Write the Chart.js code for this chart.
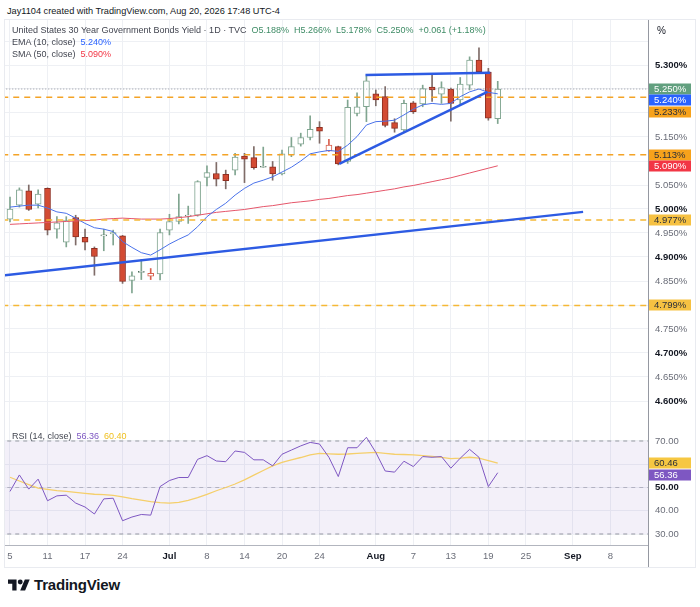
<!DOCTYPE html>
<html><head><meta charset="utf-8">
<script src="https://cdn.jsdelivr.net/npm/chart.js@4.4.1/dist/chart.umd.min.js"></script>
<style>
html,body{margin:0;padding:0;background:#fff;}
body{width:700px;height:607px;position:relative;overflow:hidden;font-family:"Liberation Sans",Arial,sans-serif;color:#131722;}
.abs{position:absolute;white-space:nowrap;}
#hdr{left:7px;top:6px;font-size:9.2px;}
.lg{left:12px;font-size:9px;color:#434651;}
#frame{left:4px;top:19px;width:690px;height:547px;border:1px solid #e9ebf0;}
#vline{left:648px;top:20px;width:1px;height:547px;background:#9598a1;}
canvas{position:absolute;}
#logo{left:8px;top:576px;font-size:15px;font-weight:bold;display:flex;align-items:center;gap:4px;letter-spacing:-0.2px;}
</style></head>
<body>
<div class="abs" id="frame"></div>
<div class="abs" id="hdr">Jay1104 created with TradingView.com, Aug 20, 2026 17:48 UTC-4</div>
<canvas id="main" width="690" height="405" style="left:5px;top:20px;width:690px;height:405px"></canvas>
<canvas id="rsi" width="690" height="142" style="left:5px;top:425px;width:690px;height:142px"></canvas>
<div class="abs" id="vline"></div>
<div class="abs lg" id="lg1" style="top:25px"></div>
<div class="abs lg" id="lg2" style="top:37px"></div>
<div class="abs lg" id="lg3" style="top:49px"></div>
<div class="abs lg" id="lg4" style="top:431px"></div>
<div class="abs" style="left:657px;top:25px;font-size:10px;">%</div>
<div class="abs" id="logo"><svg width="22" height="16" viewBox="0 0 36 26"><path d="M14 22H7V11H0V4h14v18z" fill="#131722"/><circle cx="20" cy="8" r="4" fill="#131722"/><path d="M28 22h-8l7.5-18h8L28 22z" fill="#131722"/></svg><span>TradingView</span></div>
<script>
// ---------------- DATA ----------------
const dates = ['2026-06-05','2026-06-08','2026-06-09','2026-06-10','2026-06-11','2026-06-12','2026-06-15','2026-06-16','2026-06-17','2026-06-18','2026-06-22','2026-06-23','2026-06-24','2026-06-25','2026-06-26','2026-06-29','2026-06-30','2026-07-01','2026-07-02','2026-07-06','2026-07-07','2026-07-08','2026-07-09','2026-07-10','2026-07-13','2026-07-14','2026-07-15','2026-07-16','2026-07-17','2026-07-20','2026-07-21','2026-07-22','2026-07-23','2026-07-24','2026-07-27','2026-07-28','2026-07-29','2026-07-30','2026-07-31','2026-08-03','2026-08-04','2026-08-05','2026-08-06','2026-08-07','2026-08-10','2026-08-11','2026-08-12','2026-08-13','2026-08-14','2026-08-17','2026-08-18','2026-08-19','2026-08-20'];
const openV  = [4.979,5.008,5.038,5.010,5.043,4.958,4.931,4.982,4.941,4.918,4.944,4.948,4.944,4.851,4.868,4.860,4.865,4.956,4.974,4.985,4.987,5.066,5.074,5.072,5.081,5.110,5.107,5.087,5.088,5.073,5.113,5.135,5.149,5.170,5.121,5.130,5.099,5.199,5.213,5.240,5.234,5.180,5.165,5.221,5.219,5.254,5.239,5.250,5.227,5.258,5.310,5.285,5.188];
const highV  = [5.025,5.044,5.050,5.040,5.044,4.984,4.984,4.987,4.958,4.921,4.958,4.956,4.945,4.869,4.895,4.876,4.958,4.989,5.031,5.006,5.059,5.090,5.097,5.081,5.116,5.116,5.130,5.129,5.099,5.123,5.149,5.158,5.194,5.182,5.145,5.131,5.227,5.242,5.277,5.248,5.255,5.188,5.227,5.224,5.258,5.279,5.265,5.252,5.274,5.317,5.336,5.293,5.266];
const lowV   = [4.973,5.004,4.997,5.002,4.946,4.939,4.921,4.925,4.915,4.862,4.913,4.925,4.845,4.825,4.853,4.853,4.852,4.946,4.969,4.970,4.985,5.048,5.048,5.042,5.071,5.055,5.083,5.087,5.060,5.071,5.109,5.131,5.144,5.137,5.120,5.092,5.095,5.194,5.182,5.215,5.171,5.160,5.160,5.199,5.213,5.224,5.220,5.183,5.217,5.248,5.285,5.185,5.178];
const closeV = [5.000,5.040,4.999,5.031,4.956,4.971,4.976,4.942,4.931,4.901,4.946,4.951,4.849,4.861,4.870,4.866,4.951,4.974,4.984,4.986,5.057,5.076,5.062,5.059,5.108,5.104,5.086,5.088,5.073,5.115,5.130,5.149,5.166,5.162,5.133,5.094,5.212,5.213,5.267,5.227,5.174,5.168,5.220,5.203,5.251,5.248,5.253,5.220,5.260,5.310,5.286,5.189,5.250];
const ema10  = [5.004,5.006,5.008,5.008,5.002,4.994,4.991,4.981,4.970,4.961,4.958,4.953,4.932,4.920,4.909,4.904,4.915,4.927,4.937,4.946,4.963,4.984,4.999,5.012,5.029,5.043,5.054,5.060,5.067,5.077,5.087,5.100,5.115,5.119,5.122,5.120,5.133,5.151,5.175,5.182,5.183,5.185,5.196,5.208,5.217,5.220,5.218,5.220,5.234,5.244,5.250,5.243,5.240];
const sma50  = [4.968,4.969,4.970,4.971,4.972,4.973,4.974,4.975,4.976,4.977,4.979,4.980,4.981,4.980,4.979,4.979,4.979,4.980,4.982,4.984,4.987,4.990,4.993,4.995,4.997,4.999,5.002,5.005,5.007,5.010,5.013,5.015,5.017,5.020,5.022,5.025,5.028,5.030,5.033,5.036,5.039,5.042,5.046,5.049,5.053,5.057,5.061,5.065,5.070,5.075,5.080,5.085,5.090];
const rsi14  = [48.3,55.4,49.3,53.6,44.3,46.4,46.7,43.3,41.6,38.6,45.1,45.4,35.7,37.3,38.4,38.1,50.4,53.0,54.3,54.3,62.1,63.7,61.4,61.1,65.7,65.1,61.9,61.9,59.3,64.3,66.1,67.9,69.4,68.7,63.0,54.7,67.1,67.1,71.6,65.1,57.1,56.6,61.3,59.0,63.3,63.0,63.3,58.3,62.6,66.4,63.0,50.4,56.36];
const rsiMa  = [54.4,52.8,51.2,49.7,49.2,48.7,48.3,47.9,47.5,47.1,46.9,46.6,46.0,45.2,44.6,43.9,43.5,43.3,43.6,44.5,45.6,47.0,48.6,50.0,51.5,53.3,55.3,57.3,59.3,60.8,61.9,62.9,64.0,64.7,64.5,64.3,64.4,64.7,64.9,65.1,64.7,64.3,64.2,64.0,63.7,63.4,63.0,62.4,62.6,63.0,62.6,61.6,60.46];
const xTickIdx  = [0,4,8,12,17,21,25,29,33,39,43,47,51,55,60,64];
const xTickText = ['5','11','17','24','Jul','8','14','20','24','Aug','7','13','19','25','Sep','8'];
const priceTicks = [4.60,4.65,4.70,4.75,4.80,4.85,4.90,4.95,5.00,5.05,5.10,5.15,5.20,5.25,5.30,5.35];
const rsiTicks = [30,40,50,60,70];
const hLevelsOrange = [5.233,5.113];
const hLevelsYellow = [4.977,4.799];
// trendline drawings: [barIndex, price]
const supportLine = [[-0.6,4.8618],[61.1,4.994]];
const wedgeLow    = [[35.1,5.094],[50.9,5.244]];
const wedgeTop    = [[37.9,5.279],[51.2,5.284]];
const rsiBands = [70,50,30];

// ---------------- STYLE ----------------
const F = '"Liberation Sans", Arial, sans-serif';
const X_MIN = -0.533, X_MAX = 68.02;
const n = dates.length, last = n - 1;
const kind = closeV.map((c,i)=> c >= openV[i] ? ((i>0 && c < closeV[i-1]) ? 'hred' : 'up') : 'down');
const bodyBg = kind.map(k => k==='down' ? '#d34b33' : '#ffffff');
const bodyBd = kind.map((k,i) => Math.abs(closeV[i]-openV[i])<0.0025 ? (k==='up'?'#4e6f5d':'#8e2f22') : (k==='down' ? '#8e2f22' : (k==='hred' ? '#d9604e' : '#80a590')));
const wickC = kind.map(k => k==='down' ? '#7f6c68' : (k==='hred' ? '#d9604e' : '#80a590'));
const pts = arr => arr.map((v,i)=>({x:i,y:v}));
const seg = a => a.map(p=>({x:p[0],y:p[1]}));
const hline = v => [{x:-2,y:v},{x:72,y:v}];

function fixY(w){ return s => { s.width = w; s.paddingTop = 0; s.paddingBottom = 0; }; }
function fixX(h){ return s => { s.height = h; s.paddingLeft = 0; s.paddingRight = 0; }; }
const tv = c => (c && c.tick) ? c.tick.value : NaN;

function labelPlugin(id, list, gap){
  return { id, afterDraw(chart){
    const ctx = chart.ctx, ys = chart.scales.y, ca = chart.chartArea;
    const items = list.map(l => Object.assign({}, l, {py: ys.getPixelForValue(l.v)})).sort((a,b)=>a.py-b.py);
    let prev = -1e9;
    items.forEach(it => { if (it.py < prev + gap) it.py = prev + gap; prev = it.py; });
    ctx.save();
    ctx.font = '9.5px ' + F; ctx.textBaseline = 'middle'; ctx.textAlign = 'left';
    items.forEach(it => {
      ctx.fillStyle = it.bg;
      ctx.beginPath(); ctx.rect(ca.right + 1, Math.round(it.py) - 5.5, 42, 11); ctx.fill();
      ctx.fillStyle = it.fg; ctx.fillText(it.text, ca.right + 6, Math.round(it.py) + 0.5);
    });
    ctx.restore();
  }};
}

const gridC = '#eef0f4';
const tickColor = (bold) => bold ? '#131722' : '#6a6d78';
const isBoldPrice = v => Math.abs(v*10 - Math.round(v*10)) < 1e-6;
const hiddenPrice = [5.35,5.25,5.20,5.10,4.80];
const isMonth = v => { const k = xTickIdx.indexOf(v); return k>=0 && isNaN(+xTickText[k]); };

// ---------------- MAIN CHART ----------------
const lineDs = (data, color, w, extra) => Object.assign({type:'line', data, borderColor:color, borderWidth:w, pointRadius:0, tension:0, fill:false}, extra||{});
const mainDatasets = [
  lineDs(seg(supportLine), '#2d5be3', 2.5),
  lineDs(seg(wedgeLow), '#2d5be3', 2.5),
  lineDs(seg(wedgeTop), '#2d5be3', 2.5),
  lineDs(hline(closeV[last]), '#9598a1', 1, {borderDash:[1,2]}),
  ...hLevelsOrange.map(v => lineDs(hline(v), '#f4a326', 1.5, {borderDash:[6,5]})),
  ...hLevelsYellow.map(v => lineDs(hline(v), '#f5b835', 1.5, {borderDash:[6,5]})),
  lineDs(pts(ema10), '#4a72ea', 1),
  lineDs(pts(sma50), '#e5566a', 1),
  { type:'bar', data: dates.map((d,i)=>({x:i, y:[openV[i], closeV[i]]})), backgroundColor: bodyBg, borderColor: bodyBd, borderWidth:1, borderSkipped:false, barThickness:6, grouped:false, minBarLength:1 },
  { type:'bar', data: dates.map((d,i)=>({x:i, y:[lowV[i], highV[i]]})), backgroundColor: wickC, borderWidth:0, barThickness:1, grouped:false, minBarLength:1 }
];

new Chart(document.getElementById('main'), {
  type:'line',
  data:{ datasets: mainDatasets },
  options:{
    responsive:false, animation:false, events:[],
    layout:{padding:0},
    plugins:{legend:{display:false}, tooltip:{enabled:false}},
    scales:{
      x:{ type:'linear', min:X_MIN, max:X_MAX, offset:false,
          grid:{color:gridC, drawTicks:false, offset:false},
          border:{display:true, color:'#e0e3eb'},
          ticks:{display:false},
          afterBuildTicks: s => { s.ticks = xTickIdx.map(v=>({value:v})); },
          afterFit: fixX(0) },
      y:{ type:'linear', position:'right', min:4.55, max:5.39375, beginAtZero:false,
          grid:{color:gridC, drawTicks:false},
          border:{display:true, color:'#9598a1'},
          afterBuildTicks: s => { s.ticks = priceTicks.map(v=>({value:v})); },
          afterFit: fixY(47),
          ticks:{ padding:7, autoSkip:false,
            callback: v => hiddenPrice.some(h=>Math.abs(h-v)<1e-6) ? '' : v.toFixed(3)+'%',
            color: c => tickColor(isBoldPrice(tv(c))),
            font: c => ({family:F, size:9.5, weight: isBoldPrice(tv(c)) ? 'bold' : 'normal'}) } }
    }
  },
  plugins:[labelPlugin('mainLabels', [
    {v:closeV[last], text:closeV[last].toFixed(3)+'%', bg:'#62a07f', fg:'#ffffff'},
    {v:ema10[last], text:ema10[last].toFixed(3)+'%', bg:'#2962ff', fg:'#ffffff'},
    {v:hLevelsOrange[0], text:hLevelsOrange[0].toFixed(3)+'%', bg:'#f7a21b', fg:'#2a2e39'},
    {v:hLevelsOrange[1], text:hLevelsOrange[1].toFixed(3)+'%', bg:'#f7a21b', fg:'#2a2e39'},
    {v:sma50[last], text:sma50[last].toFixed(3)+'%', bg:'#f23645', fg:'#ffffff'},
    {v:hLevelsYellow[0], text:hLevelsYellow[0].toFixed(3)+'%', bg:'#f6c142', fg:'#2a2e39'},
    {v:hLevelsYellow[1], text:hLevelsYellow[1].toFixed(3)+'%', bg:'#f6c142', fg:'#2a2e39'}
  ], 11.5)]
});

// ---------------- RSI CHART ----------------
const rsiDatasets = [
  lineDs(pts(rsi14), '#7e57c2', 1),
  lineDs(pts(rsiMa), '#f5cf6b', 1.3),
  lineDs(hline(rsiBands[0]), '#9598a1', 1, {borderDash:[4,4], fill:{target:3}, backgroundColor:'rgba(126,87,194,0.09)'}),
  lineDs(hline(rsiBands[2]), '#9598a1', 1, {borderDash:[4,4]}),
  lineDs(hline(rsiBands[1]), 'rgba(149,152,161,0.6)', 1, {borderDash:[4,4]})
];

new Chart(document.getElementById('rsi'), {
  type:'line',
  data:{ datasets: rsiDatasets },
  options:{
    responsive:false, animation:false, events:[],
    layout:{padding:0},
    plugins:{legend:{display:false}, tooltip:{enabled:false}},
    scales:{
      x:{ type:'linear', min:X_MIN, max:X_MAX, offset:false,
          grid:{color:gridC, drawTicks:false, offset:false},
          border:{display:true, color:'#b2b5be'},
          afterBuildTicks: s => { s.ticks = xTickIdx.map(v=>({value:v})); },
          afterFit: fixX(22),
          ticks:{ padding:6, autoSkip:false, maxRotation:0, minRotation:0,
            callback: v => { const k = xTickIdx.indexOf(v); return k>=0 ? xTickText[k] : ''; },
            color: c => tickColor(isMonth(tv(c))),
            font: c => ({family:F, size:9.5, weight: isMonth(tv(c)) ? 'bold':'normal'}) } },
      y:{ type:'linear', position:'right', min:25.27, max:76.88, beginAtZero:false,
          grid:{color:gridC, drawTicks:false},
          border:{display:true, color:'#9598a1'},
          afterBuildTicks: s => { s.ticks = rsiTicks.map(v=>({value:v})); },
          afterFit: fixY(47),
          ticks:{ padding:7, autoSkip:false,
            callback: v => v===60 ? '' : v.toFixed(2),
            color: c => tickColor(tv(c)===50),
            font: c => ({family:F, size:9.5, weight: tv(c)===50 ? 'bold':'normal'}) } }
    }
  },
  plugins:[labelPlugin('rsiLabels', [
    {v:rsiMa[last], text:rsiMa[last].toFixed(2), bg:'#f6c742', fg:'#2a2e39'},
    {v:rsi14[last], text:rsi14[last].toFixed(2), bg:'#7e57c2', fg:'#ffffff'}
  ], 11.5)]
});

// ---------------- LEGENDS ----------------
const G = '#3f8c66';
const chg = closeV[last] - closeV[last-1];
const pct = chg / closeV[last-1] * 100;
const sp = '&nbsp;&nbsp;';
document.getElementById('lg1').innerHTML =
  'United States 30 Year Government Bonds Yield · 1D · TVC' + sp +
  `<span style="color:${G}">O${openV[last].toFixed(3)}%${sp}H${highV[last].toFixed(3)}%${sp}L${lowV[last].toFixed(3)}%${sp}C${closeV[last].toFixed(3)}%${sp}${chg>=0?'+':''}${chg.toFixed(3)} (${chg>=0?'+':''}${pct.toFixed(2)}%)</span>`;
document.getElementById('lg2').innerHTML = `EMA (10, close)&nbsp; <span style="color:#2962ff">${ema10[last].toFixed(3)}%</span>`;
document.getElementById('lg3').innerHTML = `SMA (50, close)&nbsp; <span style="color:#f23645">${sma50[last].toFixed(3)}%</span>`;
document.getElementById('lg4').innerHTML = `RSI (14, close)&nbsp; <span style="color:#7e57c2">${rsi14[last].toFixed(2)}</span>&nbsp; <span style="color:#f0c020">60.40</span>`;
</script>
</body></html>
